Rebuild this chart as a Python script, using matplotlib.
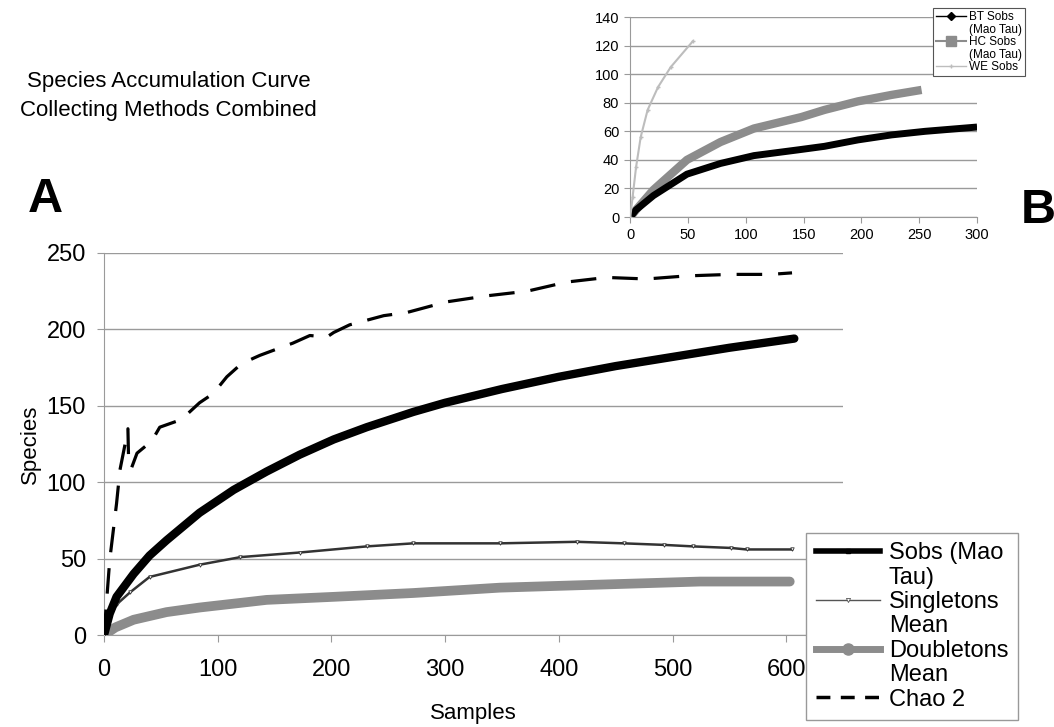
import numpy as np
import matplotlib
matplotlib.use('Agg')
import matplotlib.pyplot as plt
from matplotlib.lines import Line2D

plt.rcParams['font.family'] = ['Liberation Sans', 'DejaVu Sans']

# main chart (A) - all collecting methods combined
sobs_x = [0, 5, 11, 26, 40, 55, 84, 114, 143, 172, 202, 231, 272, 300, 350, 400, 450, 500, 550, 607]
sobs = [0, 14, 25, 40, 52, 62, 80, 95, 107, 118, 128, 136, 146, 152, 161, 169, 176, 182, 188, 194]

single_x = [0, 5, 11, 23, 40, 84, 120, 172, 231, 272, 348, 416, 457, 492, 518, 551, 565, 605]
single = [0, 12, 20, 28, 38, 46, 51, 54, 58, 60, 60, 61, 60, 59, 58, 57, 56, 56]

double_x = [0, 10, 26, 55, 84, 143, 202, 272, 348, 436, 524, 603]
double = [0, 5, 10, 15, 18, 23, 25, 27.5, 31, 33, 35, 35]

chao_x = [0, 5, 11, 14, 18, 21, 21.5, 24, 29, 42, 49, 68, 84, 96, 108, 120, 131, 137, 155, 166,
          181, 196, 202, 216, 231, 246, 266, 301, 337, 372, 407, 442, 477, 512, 551, 586, 605]
chao = [0, 49, 86, 108, 123, 135, 118, 109, 119, 127, 136, 141, 152, 158, 169, 177, 181, 183, 188, 191,
        196, 195, 198, 203, 206, 209, 211, 218, 222, 225, 231, 234, 233, 235, 236, 236, 237]

# inset chart (B) - per method
bt_x = [0, 5, 20, 49, 78, 107, 145, 168, 197, 226, 255, 300]
bt = [0, 5, 15, 30, 37.5, 43, 47, 49.5, 54, 57.5, 60, 63]
hc_x = [0, 5, 20, 49, 78, 107, 148, 168, 197, 226, 252]
hc = [0, 5, 19, 40, 52.5, 62, 70, 75, 81, 85.5, 89]
we_x = [0, 2, 5, 9, 15, 24, 35, 54]
we = [0, 14, 35, 56, 75, 91, 105, 123]

grid_c = '#9a9a9a'
grey = '#8c8c8c'
blank = Line2D([], [], color='none')

fig = plt.figure(figsize=(10.54, 7.27), dpi=100)

ax = fig.add_axes([0.0987, 0.1265, 0.7013, 0.5255])
ax.plot(double_x, double, color=grey, lw=7, solid_capstyle='round', zorder=3)
ax.plot(single_x, single, color='#333333', lw=1.8, marker='v', ms=2.5, mfc='white', mew=0.6, zorder=4)
ax.plot(sobs_x, sobs, color='black', lw=6, solid_capstyle='round', zorder=5)
ax.plot(chao_x, chao, color='black', lw=2.3, dashes=(8, 5), zorder=6)
ax.set_xlim(0, 650)
ax.set_ylim(0, 250)
ax.set_xticks(range(0, 700, 100))
ax.set_yticks(range(0, 300, 50))
ax.yaxis.grid(True, color=grid_c, lw=1)
ax.set_axisbelow(True)
for s in ['top', 'right']:
    ax.spines[s].set_visible(False)
for s in ['left', 'bottom']:
    ax.spines[s].set_color(grid_c)
ax.tick_params(colors=grid_c, labelcolor='black', length=5, labelsize=17)
ax.tick_params(axis='x', pad=12)
ax.tick_params(axis='y', pad=8)
ax.set_xlabel('Samples', fontsize=16, labelpad=16)
ax.set_ylabel('Species', fontsize=16, labelpad=4)

handles = [Line2D([], [], color='black', lw=4, marker='s', ms=3), blank,
           Line2D([], [], color='#555555', lw=1, marker='v', ms=3, mfc='white', mew=0.6, markevery=0.1), blank,
           Line2D([], [], color=grey, lw=5, marker='o', ms=8), blank,
           Line2D([], [], color='black', lw=2.5, dashes=(4, 3))]
labels = ['Sobs (Mao', 'Tau)', 'Singletons', 'Mean', 'Doubletons', 'Mean', 'Chao 2']
leg = fig.legend(handles, labels, loc='upper left', bbox_to_anchor=(0.765, 0.267),
                 fontsize=17, labelspacing=0.1, handlelength=2.7, handletextpad=0.4,
                 borderpad=0.4, borderaxespad=0, fancybox=False, edgecolor='#999999', framealpha=1)
leg.get_frame().set_linewidth(1)

# inset
axb = fig.add_axes([0.598, 0.7015, 0.329, 0.275])
axb.plot(hc_x, hc, color=grey, lw=6, solid_capstyle='butt', zorder=3)
axb.plot(bt_x, bt, color='black', lw=5, solid_capstyle='butt', zorder=4)
axb.plot(we_x, we, color='#bdbdbd', lw=1.5, marker='+', ms=3, zorder=5)
axb.set_xlim(0, 300)
axb.set_ylim(0, 140)
axb.set_xticks(range(0, 350, 50))
axb.set_yticks(range(0, 160, 20))
axb.yaxis.grid(True, color=grid_c, lw=1)
axb.set_axisbelow(True)
for s in ['top', 'right']:
    axb.spines[s].set_visible(False)
for s in ['left', 'bottom']:
    axb.spines[s].set_color(grid_c)
axb.tick_params(colors=grid_c, labelcolor='black', length=4, labelsize=10.5, pad=4)

bh = [Line2D([], [], color='black', lw=1, marker='D', ms=4), blank,
      Line2D([], [], color=grey, lw=1.5, marker='s', ms=7), blank,
      Line2D([], [], color='#bdbdbd', lw=1, marker='+', ms=3)]
bl = ['BT Sobs', '(Mao Tau)', 'HC Sobs', '(Mao Tau)', 'WE Sobs']
legb = fig.legend(bh, bl, loc='upper left', bbox_to_anchor=(0.885, 0.989),
                  fontsize=8.5, labelspacing=0.05, handlelength=2.6, handletextpad=0.2,
                  borderpad=0.25, borderaxespad=0, fancybox=False, edgecolor='#555555', framealpha=1)
legb.get_frame().set_linewidth(0.8)

fig.text(0.16, 0.868, 'Species Accumulation Curve\nCollecting Methods Combined',
         ha='center', va='center', fontsize=16, linespacing=1.45)
fig.text(0.043, 0.725, 'A', ha='center', va='center', fontsize=35, fontweight='bold')
fig.text(0.968, 0.71, 'B', ha='left', va='center', fontsize=35, fontweight='bold')

plt.savefig('out.png', dpi=100)
